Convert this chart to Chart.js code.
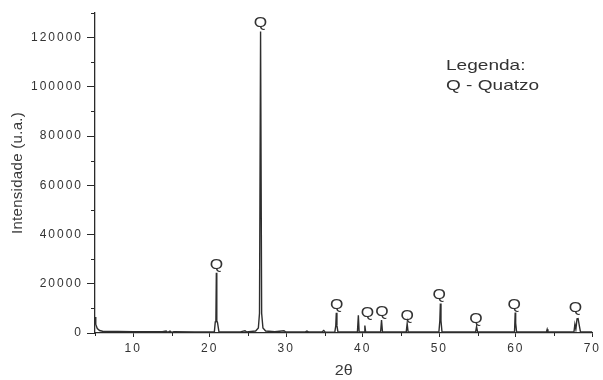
<!DOCTYPE html>
<html>
<head>
<meta charset="utf-8">
<script src="https://cdn.jsdelivr.net/npm/chart.js@4"></script>
<style>
  html, body { margin: 0; padding: 0; background: #ffffff; }
  #wrap { width: 603px; height: 380px; position: relative; }
</style>
</head>
<body>
<div id="wrap"><canvas id="xrd" width="603" height="380"></canvas></div>
<script>
// Diffraction pattern: 2θ (degrees) and measured intensity (u.a.)
const twoTheta = [
  5.0, 5.1, 5.3, 5.6, 6.0, 8.0, 10.0, 12.0, 13.8, 14.3, 14.5, 14.8, 15.0, 15.3,
  18.0, 20.6, 20.72, 20.8, 20.86, 20.92, 21.0, 21.2,
  24.0, 24.6, 24.8, 26.0, 26.35, 26.5, 26.64, 26.78, 26.95, 27.3,
  28.5, 29.7, 29.9, 32.5, 32.7, 32.9, 34.7, 34.9, 35.1,
  36.35, 36.47, 36.54, 36.62, 36.75,
  39.3, 39.42, 39.52, 40.17, 40.27, 40.37,
  42.33, 42.45, 42.57, 45.68, 45.8, 45.92,
  49.95, 50.07, 50.14, 50.22, 50.35, 54.75, 54.87, 55.0,
  59.83, 59.92, 59.98, 60.1, 64.0, 64.1, 64.2,
  67.6, 67.72, 67.85, 68.0, 68.14, 68.3, 68.45, 70.0
];
const intensity = [
  6500, 3500, 1800, 1000, 700, 600, 550, 500, 500, 800, 250, 800, 250, 500,
  450, 450, 4500, 4800, 24500, 4800, 4500, 450,
  450, 900, 450, 800, 2000, 8000, 122500, 8000, 2000, 800,
  500, 900, 450, 450, 800, 450, 450, 1000, 350,
  450, 3000, 8200, 3000, 450,
  450, 7200, 450, 450, 3000, 450,
  450, 5300, 450, 450, 3800, 450,
  450, 5000, 12000, 5000, 450, 450, 2600, 450,
  450, 8300, 4000, 450, 450, 1500, 450,
  450, 3500, 1500, 5800, 5900, 3000, 450, 450
];

// Quartz reflections marked with "Q": 2θ position and the height the mark sits on
const quartzTheta = [20.86, 26.64, 36.6, 40.6, 42.5, 45.8, 50.0, 54.8, 59.8, 67.8];
const quartzHeight = [24500, 122500, 8200, 4900, 5300, 3800, 12000, 2600, 8300, 6900];

// Axis ticks
const xMajorTicks = [10, 20, 30, 40, 50, 60, 70];
const xMinorTicks = [5, 15, 25, 35, 45, 55, 65];
const yMajorTicks = [0, 20000, 40000, 60000, 80000, 100000, 120000];
const yMinorTicks = [10000, 30000, 50000, 70000, 90000, 110000, 130000];

const xTitle = '2θ';
const yTitle = 'Intensidade (u.a.)';
const legendLines = ['Legenda:', 'Q - Quatzo'];

const points = twoTheta.map((t, i) => ({ x: t, y: intensity[i] }));
const FONT = '"Liberation Sans", Arial, sans-serif';

const annotations = {
  id: 'annotations',
  beforeDraw(chart) {
    // wide, spaced-out tick numerals
    chart.ctx.letterSpacing = '2px';
  },
  afterDraw(chart) {
    const ctx = chart.ctx;
    const xs = chart.scales.x, ys = chart.scales.y;
    const area = chart.chartArea;
    ctx.save();
    ctx.letterSpacing = '0px';

    // minor tick marks
    ctx.strokeStyle = '#2a2a2a';
    ctx.lineWidth = 1;
    ctx.beginPath();
    xMinorTicks.forEach(v => {
      const px = Math.round(xs.getPixelForValue(v)) + 0.5;
      ctx.moveTo(px, ys.bottom);
      ctx.lineTo(px, ys.bottom + 3);
    });
    yMinorTicks.forEach(v => {
      const py = Math.round(ys.getPixelForValue(v)) + 0.5;
      ctx.moveTo(xs.left, py);
      ctx.lineTo(xs.left - 4, py);
    });
    ctx.stroke();

    // "Q" peak markers
    ctx.fillStyle = '#333';
    ctx.font = '15px ' + FONT;
    ctx.textAlign = 'center';
    ctx.textBaseline = 'alphabetic';
    quartzTheta.forEach((t, i) => {
      const px = xs.getPixelForValue(t);
      const py = ys.getPixelForValue(quartzHeight[i]);
      ctx.save();
      ctx.translate(px, py - 4);
      ctx.scale(1.15, 1);
      ctx.fillText('Q', 0, 0);
      ctx.restore();
    });

    // legend text
    ctx.textAlign = 'left';
    ctx.font = '15px ' + FONT;
    legendLines.forEach((s, i) => {
      ctx.save();
      ctx.translate(area.left + 351, area.top + 57 + i * 20);
      ctx.scale(1.27, 1);
      ctx.fillText(s, 0, 0);
      ctx.restore();
    });

    // axis titles
    ctx.fillStyle = '#3a3a3a';
    ctx.textAlign = 'center';
    ctx.textBaseline = 'middle';
    ctx.font = '14px ' + FONT;
    ctx.save();
    ctx.translate((area.left + area.right) / 2, area.bottom + 38);
    ctx.scale(1.15, 1);
    ctx.fillText(xTitle, 0, 0);
    ctx.restore();

    ctx.font = '15px ' + FONT;
    ctx.letterSpacing = '0.3px';
    ctx.save();
    ctx.translate(18, (area.top + area.bottom) / 2);
    ctx.rotate(-Math.PI / 2);
    ctx.fillText(yTitle, 0, 0);
    ctx.restore();
    ctx.restore();
  }
};

new Chart(document.getElementById('xrd'), {
  type: 'scatter',
  data: {
    datasets: [{
      data: points,
      showLine: true,
      borderColor: '#2e2e2e',
      borderWidth: 1.4,
      pointRadius: 0,
      tension: 0,
      fill: false
    }]
  },
  options: {
    responsive: false,
    animation: false,
    layout: { padding: { top: 13, right: 6, left: 0, bottom: 0 } },
    plugins: { legend: { display: false }, tooltip: { enabled: false } },
    scales: {
      x: {
        type: 'linear',
        min: 5,
        max: 70,
        afterBuildTicks: s => { s.ticks = xMajorTicks.map(v => ({ value: v })); },
        afterFit: s => { s.height = 47; },
        grid: { display: true, drawOnChartArea: false, drawTicks: true, tickLength: 4, tickColor: '#2a2a2a' },
        border: { display: true, color: '#2a2a2a', width: 1.3 },
        ticks: {
          color: '#333',
          padding: 4,
          maxRotation: 0,
          callback: v => String(v),
          font: { family: FONT, size: 12 }
        },
        title: { display: false }
      },
      y: {
        type: 'linear',
        min: 0,
        max: 130000,
        afterBuildTicks: s => { s.ticks = yMajorTicks.map(v => ({ value: v })); },
        afterFit: s => { s.width = 95; },
        grid: { display: true, drawOnChartArea: false, drawTicks: true, tickLength: 8, tickColor: '#2a2a2a' },
        border: { display: true, color: '#2a2a2a', width: 1.3 },
        ticks: {
          color: '#333',
          padding: 4,
          callback: v => String(v),
          font: { family: FONT, size: 12 }
        },
        title: { display: false }
      }
    }
  },
  plugins: [annotations]
});
</script>
</body>
</html>
